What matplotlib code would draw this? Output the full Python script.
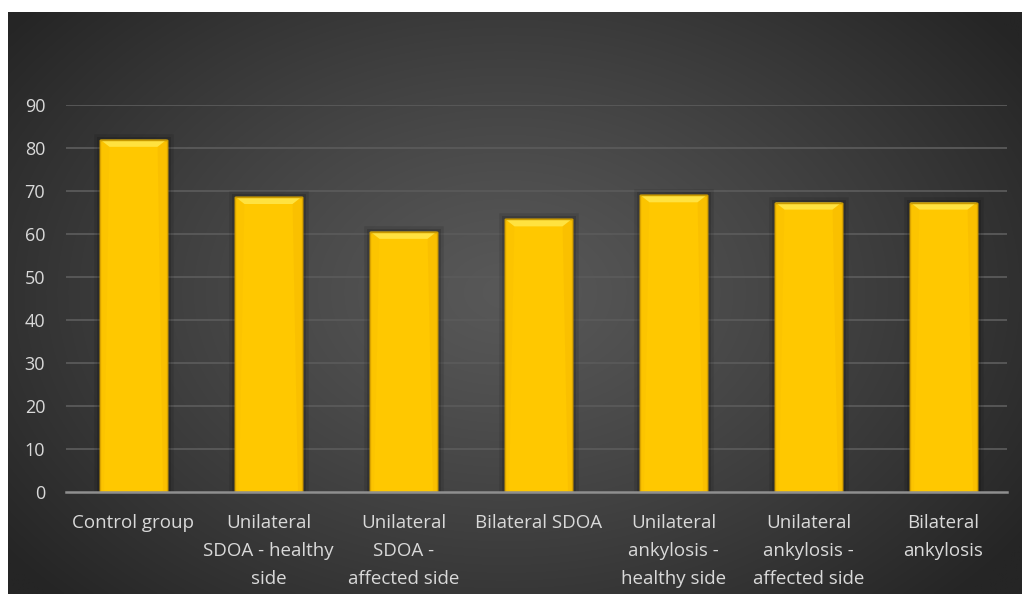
import numpy as np
import matplotlib
matplotlib.use("Agg")
import matplotlib.pyplot as plt
from matplotlib.patches import Polygon
import matplotlib.patheffects as pe

categories = [
    "Control group",
    "Unilateral\nSDOA - healthy\nside",
    "Unilateral\nSDOA -\naffected side",
    "Bilateral SDOA",
    "Unilateral\nankylosis -\nhealthy side",
    "Unilateral\nankylosis -\naffected side",
    "Bilateral\nankylosis",
]
values = [81.9, 68.6, 60.5, 63.4, 69.0, 67.3, 67.3]
y_ticks = [0, 10, 20, 30, 40, 50, 60, 70, 80, 90]

W, H = 1022, 594
fig = plt.figure(figsize=(W / 100, H / 100), dpi=100, facecolor="white")

# dark panel with a soft radial gradient
bg = fig.add_axes([8 / W, 0, (W - 8) / W, (H - 12) / H])
bg.set_axis_off()
ny, nx = 300, 520
yy, xx = np.mgrid[0:ny, 0:nx]
cx, cy = nx * 0.49, ny * 0.48
r = np.sqrt(((xx - cx) / (nx * 0.62)) ** 2 + ((yy - cy) / (ny * 0.75)) ** 2)
r = np.clip(r, 0, 1)
c_in, c_out = np.array([0x58, 0x58, 0x58]), np.array([0x25, 0x25, 0x25])
img = (c_in[None, None, :] * (1 - r[..., None] ** 1.2) + c_out[None, None, :] * r[..., None] ** 1.2) / 255
bg.imshow(img, aspect="auto", extent=[0, 1, 0, 1], interpolation="bilinear")
bg.set_xlim(0, 1)
bg.set_ylim(0, 1)

ax = fig.add_axes([66 / W, 102 / H, (1011 - 66) / W, (492 - 105) / H])
ax.patch.set_alpha(0)
x = np.arange(len(categories))
bw = 0.49

glow = [pe.withStroke(linewidth=9, foreground=(0, 0, 0, 0.10)),
        pe.withStroke(linewidth=5, foreground=(0, 0, 0, 0.15)),
        pe.Normal()]
bars = ax.bar(x, values, width=bw, color="#FFC800", edgecolor="#D9A300",
              linewidth=1.0, zorder=3, path_effects=glow)

# bevel highlight along the top of each bar
px_per_unit_y = (492 - 105) / 90.0
px_per_unit_x = (1011 - 66) / 7.0
bev_y = 7 / px_per_unit_y
bev_x = 9 / px_per_unit_x
for b in bars:
    x0, x1 = b.get_x(), b.get_x() + b.get_width()
    top = b.get_height()
    ax.add_patch(Polygon([(x0, top), (x1, top), (x1 - bev_x, top - bev_y), (x0 + bev_x, top - bev_y)],
                         closed=True, facecolor="#FFE240", edgecolor="none", zorder=4))
    ax.add_patch(Polygon([(x0, top), (x0 + bev_x, top - bev_y), (x0 + bev_x * 0.4, 0), (x0, 0)],
                         closed=True, facecolor="#F2B800", edgecolor="none", zorder=4, alpha=0.2))
    ax.add_patch(Polygon([(x1, top), (x1 - bev_x, top - bev_y), (x1 - bev_x * 0.4, 0), (x1, 0)],
                         closed=True, facecolor="#F0B000", edgecolor="none", zorder=4, alpha=0.3))
    ax.plot([x0, x1], [top, top], color="#C99A00", lw=1.0, zorder=5)

ax.set_xlim(-0.5, len(categories) - 0.5)
ax.set_ylim(0, 90)
ax.set_yticks(y_ticks)
ax.set_xticks(x)

font = "Open Sans"
ax.set_yticklabels([str(t) for t in y_ticks], fontsize=13, color="#D9D9D9", family=font)
ax.set_xticklabels(categories, fontsize=13.5, color="#D9D9D9", family=font, linespacing=1.7,
                   va="top")
ax.tick_params(axis="y", length=0, pad=15)
ax.tick_params(axis="x", length=0, pad=16)

for t in y_ticks[1:]:
    ax.plot([-0.5, 6.47], [t, t], color="#5A5A5A", lw=1.3, zorder=1, solid_capstyle="butt")
ax.plot([-0.5, 6.47], [0, 0], color="#8F8F8F", lw=1.8, zorder=6, clip_on=False)

for s in ax.spines.values():
    s.set_visible(False)

fig.savefig("out.png", dpi=100, facecolor="white")
